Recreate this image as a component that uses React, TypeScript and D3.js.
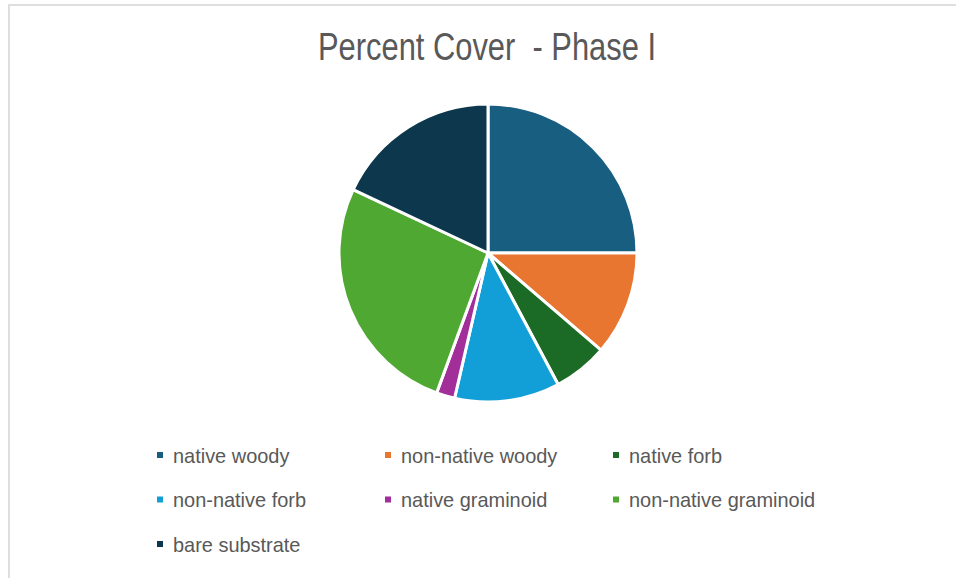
import React from "react";
import * as d3 from "d3";

const categories = [
  "native woody",
  "non-native woody",
  "native forb",
  "non-native forb",
  "native graminoid",
  "non-native graminoid",
  "bare substrate",
];
const coverValues = [25, 11.3, 5.9, 11.4, 2, 26.4, 18];
const sliceColors = [
  "#175E80",
  "#E87530",
  "#1B6B26",
  "#129FD8",
  "#A12E99",
  "#4FA832",
  "#0D374D",
];
const chartTitle = "Percent Cover  - Phase I";

const W = 956;
const H = 578;
const FONT = "'Liberation Sans Narrow', 'Arial Narrow', 'Liberation Sans', sans-serif";

export default function App() {
  const cx = 488;
  const cy = 253;
  const radius = 149;

  const pie = d3
    .pie<number>()
    .sort(null)
    .startAngle(0)
    .endAngle(2 * Math.PI);
  const arcs = pie(coverValues);
  const arc = d3.arc<d3.PieArcDatum<number>>().innerRadius(0).outerRadius(radius);

  const colX = d3.scalePoint<number>().domain([0, 1, 2]).range([157, 613]);
  const rowY = d3.scalePoint<number>().domain([0, 1, 2]).range([455, 544]);

  return (
    <svg
      width={W}
      height={H}
      style={{ position: "absolute", left: 0, top: 0, display: "block", background: "#fff" }}
    >
      <rect x={9} y={5} width={W + 20} height={H + 20} fill="#fff" stroke="#dedede" strokeWidth={2} />
      <text
        x={318}
        y={60}
        fontFamily={FONT}
        fontSize={38}
        fill="#595959"
        textLength={338}
        lengthAdjust="spacingAndGlyphs"
        style={{ whiteSpace: "pre" }}
      >
        {chartTitle}
      </text>
      <g transform={`translate(${cx},${cy})`}>
        {arcs.map((a, i) => (
          <path key={categories[i]} d={arc(a) || ""} fill={sliceColors[i]} stroke="#fff" strokeWidth={3} strokeLinejoin="round" />
        ))}
      </g>
      <g>
        {categories.map((c, i) => {
          const x = colX(i % 3) as number;
          const y = rowY(Math.floor(i / 3)) as number;
          return (
            <g key={c} transform={`translate(${x},${y})`}>
              <rect x={0} y={-3} width={6} height={6} fill={sliceColors[i]} />
              <g transform="translate(16,0) scale(0.95,1)">
                <text x={0} y={0} dy="0.36em" fontFamily={FONT} fontSize={21} fill="#595959">
                  {c}
                </text>
              </g>
            </g>
          );
        })}
      </g>
    </svg>
  );
}
